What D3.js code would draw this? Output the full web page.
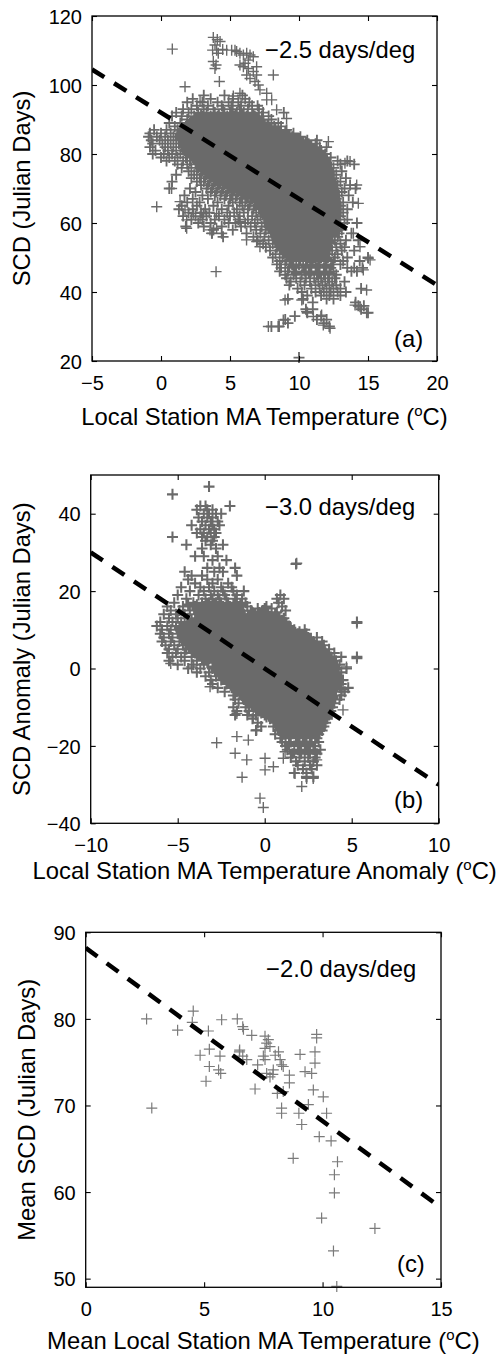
<!DOCTYPE html>
<html lang="en">
<head>
<meta charset="UTF-8">
<title>SCD vs Local Station MA Temperature</title>
<script src="https://d3js.org/d3.v7.min.js"></script>
<style>
  body { margin: 0; background: #fff; }
  svg text { font-family: "Liberation Sans", Arial, Helvetica, sans-serif; fill: #000; }
  .tick text { font-size: 20px; }
  .lab { font-size: 23.8px; }
  .pt { fill: none; }
</style>
</head>
<body>
<svg id="chart" width="501" height="1358"></svg>
<script>
// ---------- panel (a): SCD vs local station MA temperature ----------
const aXTicks = [-5, 0, 5, 10, 15, 20];
const aYTicks = [20, 40, 60, 80, 100, 120];
const aFit = { slope: -2.5, intercept: 92 };
// dense cloud, read row by row: [SCD, [temperatures]]
const aRows = [
  [97, [3.1, 4.6, 5.9]],
  [96, [2.3, 3.6, 5.2, 6.1]],
  [95, [1.9, 3.0, 4.1, 4.9, 5.6, 6.4]],
  [94, [2.6, 3.4, 4.4, 5.1, 5.8, 6.6, 7.0]],
  [93, [1.6, 2.2, 3.1, 3.8, 4.5, 5.2, 5.7, 6.3, 7.1]],
  [92, [1.1, 2.0, 2.7, 3.3, 3.9, 4.6, 5.0, 5.5, 6.0, 6.6, 7.4, 8.9]],
  [91, [0.8, 1.5, 2.4, 3.0, 3.6, 4.1, 4.8, 5.3, 5.8, 6.2, 6.8, 7.3, 7.8]],
  [90, [1.9, 2.5, 2.9, 3.4, 3.9, 4.3, 4.7, 5.1, 5.6, 6.0, 6.5, 6.9, 7.4, 8.0]],
  [89, [0.6, 1.4, 2.1, 2.6, 3.1, 3.5, 3.9, 4.4, 4.8, 5.2, 5.7, 6.1, 6.4, 6.9, 7.3, 7.8, 8.5]],
  [88, [1.0, 1.8, 2.3, 2.8, 3.2, 3.6, 4.0, 4.5, 4.9, 5.3, 5.6, 6.0, 6.4, 6.8, 7.2, 7.7, 8.2, 8.7]],
  [87, [-0.5, 0.4, 1.2, 1.9, 2.4, 2.8, 3.1, 3.5, 3.9, 4.2, 4.6, 5.0, 5.4, 5.8, 6.2, 6.5, 6.9, 7.3, 7.8, 8.3, 9.1]],
  [86, [-0.8, 0.0, 0.7, 1.3, 1.8, 2.2, 2.6, 3.0, 3.4, 3.8, 4.1, 4.5, 4.9, 5.3, 5.7, 6.0, 6.4, 6.8, 7.2, 7.6, 8.0, 8.5, 9.0, 9.6]],
  [85, [-0.9, -0.3, 0.3, 0.9, 1.5, 2.0, 2.4, 2.8, 3.2, 3.6, 4.0, 4.3, 4.7, 5.1, 5.5, 5.9, 6.3, 6.6, 7.0, 7.4, 7.8, 8.2, 8.6, 9.1, 9.5, 10.1]],
  [84, [-0.7, -0.1, 0.5, 1.1, 1.6, 2.1, 2.5, 2.9, 3.3, 3.7, 4.1, 4.4, 4.8, 5.2, 5.6, 5.9, 6.3, 6.7, 7.1, 7.5, 7.9, 8.3, 8.7, 9.2, 9.6, 10.0, 10.6, 11.3]],
  [83, [-0.6, 0.1, 0.7, 1.3, 1.8, 2.3, 2.7, 3.1, 3.5, 3.9, 4.2, 4.6, 5.0, 5.4, 5.7, 6.1, 6.5, 6.9, 7.3, 7.7, 8.1, 8.5, 8.9, 9.3, 9.7, 10.2, 10.7, 11.2]],
  [82, [-0.8, 0.3, 0.9, 1.5, 2.0, 2.4, 2.8, 3.2, 3.6, 4.0, 4.4, 4.8, 5.2, 5.5, 5.9, 6.3, 6.7, 7.1, 7.5, 7.9, 8.3, 8.7, 9.1, 9.5, 9.9, 10.4, 10.9, 11.5, 12.0]],
  [81, [-0.4, 0.5, 1.1, 1.7, 2.2, 2.6, 3.0, 3.4, 3.8, 4.2, 4.6, 5.0, 5.3, 5.7, 6.1, 6.5, 6.9, 7.3, 7.7, 8.1, 8.5, 8.9, 9.3, 9.7, 10.1, 10.5, 11.0, 11.6]],
  [80, [-0.6, 0.2, 0.8, 1.4, 1.9, 2.4, 2.8, 3.2, 3.6, 4.0, 4.4, 4.8, 5.2, 5.6, 6.0, 6.4, 6.8, 7.2, 7.6, 8.0, 8.4, 8.8, 9.2, 9.6, 10.0, 10.4, 10.8, 11.3, 11.9]],
  [79, [0.0, 0.6, 1.2, 1.8, 2.3, 2.7, 3.1, 3.5, 3.9, 4.3, 4.7, 5.1, 5.5, 5.9, 6.3, 6.7, 7.1, 7.5, 7.9, 8.3, 8.7, 9.1, 9.5, 9.9, 10.3, 10.7, 11.1, 11.6, 12.3]],
  [78, [0.4, 1.0, 1.6, 2.1, 2.6, 3.0, 3.4, 3.8, 4.2, 4.6, 5.0, 5.4, 5.8, 6.2, 6.6, 7.0, 7.4, 7.8, 8.2, 8.6, 9.0, 9.4, 9.8, 10.2, 10.6, 11.0, 11.4, 11.9, 12.8, 13.5]],
  [77, [1.2, 1.9, 2.5, 2.9, 3.3, 3.7, 4.1, 4.5, 4.9, 5.3, 5.7, 6.1, 6.5, 6.9, 7.3, 7.7, 8.1, 8.5, 8.9, 9.3, 9.7, 10.1, 10.5, 10.9, 11.3, 11.7, 12.2, 13.0, 14.0]],
  [76, [1.5, 2.2, 2.7, 3.1, 3.5, 3.9, 4.3, 4.7, 5.1, 5.5, 5.9, 6.3, 6.7, 7.1, 7.5, 7.9, 8.3, 8.7, 9.1, 9.5, 9.9, 10.3, 10.7, 11.1, 11.5, 11.9, 12.5]],
  [75, [2.0, 2.6, 3.0, 3.4, 3.8, 4.2, 4.6, 5.0, 5.4, 5.8, 6.2, 6.6, 7.0, 7.4, 7.8, 8.2, 8.6, 9.0, 9.4, 9.8, 10.2, 10.6, 11.0, 11.4, 11.8, 12.3, 13.1]],
  [74, [1.1, 2.4, 2.9, 3.3, 3.7, 4.1, 4.5, 4.9, 5.3, 5.7, 6.1, 6.5, 6.9, 7.3, 7.7, 8.1, 8.5, 8.9, 9.3, 9.7, 10.1, 10.5, 10.9, 11.3, 11.7, 12.1, 12.7]],
  [73, [2.2, 2.8, 3.2, 3.6, 4.0, 4.4, 4.8, 5.2, 5.6, 6.0, 6.4, 6.8, 7.2, 7.6, 8.0, 8.4, 8.8, 9.2, 9.6, 10.0, 10.4, 10.8, 11.2, 11.6, 12.0, 12.5, 13.4]],
  [72, [0.8, 2.6, 3.1, 3.5, 3.9, 4.3, 4.7, 5.1, 5.5, 5.9, 6.3, 6.7, 7.1, 7.5, 7.9, 8.3, 8.7, 9.1, 9.5, 9.9, 10.3, 10.7, 11.1, 11.5, 11.9, 12.4, 13.0]],
  [71, [2.9, 3.4, 3.8, 4.2, 4.6, 5.0, 5.4, 5.8, 6.2, 6.6, 7.0, 7.4, 7.8, 8.2, 8.6, 9.0, 9.4, 9.8, 10.2, 10.6, 11.0, 11.4, 11.8, 12.2, 12.8, 13.7]],
  [70, [0.6, 2.1, 3.3, 3.7, 4.1, 4.5, 4.9, 5.3, 5.7, 6.1, 6.5, 6.9, 7.3, 7.7, 8.1, 8.5, 8.9, 9.3, 9.7, 10.1, 10.5, 10.9, 11.3, 11.7, 12.1, 12.6, 13.3, 14.1]],
  [69, [2.5, 3.6, 4.0, 4.4, 4.8, 5.2, 5.6, 6.0, 6.4, 6.8, 7.2, 7.6, 8.0, 8.4, 8.8, 9.2, 9.6, 10.0, 10.4, 10.8, 11.2, 11.6, 12.0, 12.5, 13.1]],
  [68, [1.7, 3.0, 3.9, 4.3, 4.7, 5.1, 5.5, 5.9, 6.3, 6.7, 7.1, 7.5, 7.9, 8.3, 8.7, 9.1, 9.5, 9.9, 10.3, 10.7, 11.1, 11.5, 11.9, 12.3, 12.9, 13.6]],
  [67, [2.3, 3.4, 4.6, 5.0, 5.4, 5.8, 6.2, 6.6, 7.0, 7.4, 7.8, 8.2, 8.6, 9.0, 9.4, 9.8, 10.2, 10.6, 11.0, 11.4, 11.8, 12.2, 12.7]],
  [66, [1.9, 2.8, 4.1, 5.2, 5.7, 6.1, 6.5, 6.9, 7.3, 7.7, 8.1, 8.5, 8.9, 9.3, 9.7, 10.1, 10.5, 10.9, 11.3, 11.7, 12.1, 12.6, 13.2, 13.9]],
  [65, [1.5, 2.6, 3.8, 4.9, 5.9, 6.4, 6.8, 7.2, 7.6, 8.0, 8.4, 8.8, 9.2, 9.6, 10.0, 10.4, 10.8, 11.2, 11.6, 12.0, 12.4, 13.0]],
  [64, [1.3, 2.3, 3.2, 4.4, 5.5, 6.3, 6.7, 7.1, 7.5, 7.9, 8.3, 8.7, 9.1, 9.5, 9.9, 10.3, 10.7, 11.1, 11.5, 11.9, 12.3, 12.8, 13.5]],
  [63, [2.0, 2.9, 3.5, 4.8, 5.3, 6.0, 6.9, 7.3, 7.7, 8.1, 8.5, 8.9, 9.3, 9.7, 10.1, 10.5, 10.9, 11.3, 11.7, 12.1, 12.6, 13.2]],
  [62, [1.6, 2.5, 3.3, 4.2, 5.0, 5.7, 6.6, 7.2, 7.6, 8.0, 8.4, 8.8, 9.2, 9.6, 10.0, 10.4, 10.8, 11.2, 11.6, 12.0, 12.5, 13.0]],
  [61, [2.2, 3.0, 3.9, 4.6, 5.6, 6.3, 7.0, 7.8, 8.2, 8.6, 9.0, 9.4, 9.8, 10.2, 10.6, 11.0, 11.4, 11.8, 12.3, 12.9, 13.5]],
  [60, [2.7, 3.6, 4.9, 5.4, 6.1, 6.8, 7.5, 8.1, 8.5, 8.9, 9.3, 9.7, 10.1, 10.5, 10.9, 11.3, 11.7, 12.1, 12.6, 13.3, 14.2]],
  [59, [1.8, 3.1, 4.4, 5.8, 6.5, 7.3, 7.9, 8.4, 8.8, 9.2, 9.6, 10.0, 10.4, 10.8, 11.2, 11.6, 12.0, 12.5, 13.0]],
  [58, [3.8, 5.2, 6.9, 7.6, 8.3, 8.7, 9.1, 9.5, 9.9, 10.3, 10.7, 11.1, 11.5, 11.9, 12.4, 13.1]],
  [57, [3.7, 4.4, 6.2, 7.2, 8.0, 8.6, 9.0, 9.4, 9.8, 10.2, 10.6, 11.0, 11.4, 11.8, 12.3, 12.9, 13.8]],
  [56, [4.5, 6.7, 7.5, 8.2, 8.8, 9.3, 9.7, 10.1, 10.5, 10.9, 11.3, 11.7, 12.2, 12.8]],
  [55, [7.0, 7.8, 8.5, 9.0, 9.5, 9.9, 10.3, 10.7, 11.1, 11.5, 12.0, 12.6, 13.4, 14.3]],
  [54, [7.4, 8.1, 8.7, 9.2, 9.7, 10.1, 10.5, 10.9, 11.3, 11.8, 12.3, 13.0]],
  [53, [7.6, 8.4, 9.0, 9.5, 10.0, 10.4, 10.8, 11.2, 11.6, 12.1, 12.7, 13.3]],
  [52, [7.9, 8.6, 9.2, 9.7, 10.2, 10.6, 11.0, 11.4, 11.9, 12.4, 13.1, 14.0]],
  [51, [8.3, 8.9, 9.4, 9.9, 10.4, 10.8, 11.2, 11.7, 12.2, 12.8]],
  [50, [8.1, 8.8, 9.3, 9.8, 10.3, 10.7, 11.1, 11.6, 12.1, 12.6, 13.5, 15.0]],
  [49, [8.6, 9.1, 9.6, 10.1, 10.6, 11.0, 11.5, 12.0, 12.5, 13.2, 14.4]],
  [48, [8.4, 9.0, 9.5, 10.0, 10.5, 10.9, 11.4, 11.9, 12.4, 13.0]],
  [47, [8.7, 9.3, 9.8, 10.3, 10.8, 11.3, 11.8, 12.3, 13.5, 14.0, 14.6]],
  [46, [8.6, 9.2, 9.7, 10.4, 10.9, 11.4, 11.9, 12.5, 13.8, 14.2]],
  [45, [9.0, 9.6, 10.2, 10.8, 11.3, 11.8, 12.2, 12.7]],
  [44, [9.1, 9.8, 10.5, 11.1, 11.6, 12.1, 12.6]],
  [43, [9.4, 10.1, 10.8, 11.4, 11.9, 12.4, 13.3]],
  [42, [9.3, 10.4, 11.2, 11.7, 12.2, 12.7]],
  [41, [9.9, 10.9, 11.5, 12.0, 12.5, 13.0, 14.5]],
  [40, [10.2, 11.2, 11.8, 12.3, 12.8, 13.4]],
  [39, [10.6, 11.6, 12.2, 13.0]],
  [38, [9.2, 10.3, 12.0, 12.5]],
  [37, [11.0, 14.1]],
  [36, [14.3, 14.7]],
  [35, [10.5, 11.0, 14.5]],
  [34, [10.6, 15.0]],
  [33, [9.7, 11.6]],
  [32, [9.0, 11.3, 12.0]],
  [31, [9.2, 11.8]],
  [30, [8.0, 8.5, 12.2]],
  [21, [10.0]]
];
// the solid core of panel (a) between the rows above
const aHalfRows = [
  [91.5, [2.9, 3.3, 3.8, 4.2, 4.6, 5.1, 5.4, 5.9, 6.3, 6.7]],
  [90.5, [2.5, 3.0, 3.4, 3.8, 4.2, 4.6, 5.0, 5.4, 5.8, 6.3, 6.7, 7.1]],
  [89.5, [2.2, 2.6, 3.0, 3.5, 3.9, 4.3, 4.7, 5.1, 5.5, 5.9, 6.3, 6.8, 7.2]],
  [88.5, [1.9, 2.3, 2.7, 3.1, 3.5, 4.0, 4.4, 4.8, 5.2, 5.6, 6.0, 6.4, 6.9, 7.3, 7.7]],
  [87.5, [1.7, 2.1, 2.5, 2.9, 3.3, 3.7, 4.1, 4.6, 5.0, 5.4, 5.8, 6.2, 6.6, 7.0, 7.5, 7.9, 8.3]],
  [86.5, [1.5, 1.9, 2.4, 2.8, 3.2, 3.6, 4.0, 4.4, 4.8, 5.2, 5.6, 6.0, 6.5, 6.9, 7.3, 7.7, 8.1, 8.6, 9.0]],
  [85.5, [1.4, 1.8, 2.2, 2.6, 3.0, 3.4, 3.8, 4.2, 4.6, 5.0, 5.4, 5.8, 6.2, 6.6, 7.0, 7.4, 7.8, 8.3, 8.7, 9.1, 9.6]],
  [84.5, [1.4, 1.8, 2.3, 2.7, 3.1, 3.5, 3.9, 4.3, 4.7, 5.1, 5.5, 5.9, 6.3, 6.7, 7.1, 7.5, 7.9, 8.3, 8.8, 9.2, 9.6, 10.0]],
  [83.5, [1.6, 2.0, 2.4, 2.8, 3.2, 3.6, 4.0, 4.4, 4.8, 5.2, 5.6, 6.0, 6.4, 6.8, 7.2, 7.6, 8.0, 8.4, 8.8, 9.2, 9.6, 10.1, 10.5]],
  [82.5, [1.7, 2.1, 2.5, 2.9, 3.3, 3.7, 4.1, 4.5, 4.9, 5.3, 5.7, 6.1, 6.5, 6.9, 7.3, 7.7, 8.1, 8.5, 8.9, 9.3, 9.7, 10.1, 10.5, 10.9]],
  [81.5, [1.8, 2.2, 2.6, 3.0, 3.4, 3.8, 4.2, 4.6, 5.0, 5.4, 5.8, 6.2, 6.6, 7.0, 7.4, 7.8, 8.2, 8.6, 9.0, 9.4, 9.8, 10.2, 10.6, 11.0, 11.3]],
  [80.5, [1.9, 2.3, 2.7, 3.1, 3.5, 3.9, 4.3, 4.7, 5.1, 5.5, 5.9, 6.3, 6.7, 7.1, 7.5, 7.9, 8.3, 8.7, 9.1, 9.5, 9.9, 10.3, 10.7, 11.1, 11.5]],
  [79.5, [2.2, 2.6, 3.0, 3.4, 3.8, 4.2, 4.6, 5.0, 5.4, 5.8, 6.2, 6.6, 7.0, 7.4, 7.8, 8.2, 8.6, 9.0, 9.4, 9.8, 10.2, 10.6, 11.0, 11.4, 11.7]],
  [78.5, [2.5, 2.9, 3.3, 3.7, 4.1, 4.5, 4.9, 5.3, 5.7, 6.1, 6.5, 6.9, 7.3, 7.7, 8.1, 8.5, 8.9, 9.3, 9.7, 10.1, 10.5, 10.9, 11.3, 11.6, 11.9]],
  [77.5, [2.7, 3.1, 3.5, 3.9, 4.3, 4.7, 5.1, 5.5, 5.9, 6.3, 6.7, 7.1, 7.5, 7.9, 8.3, 8.7, 9.1, 9.5, 9.9, 10.3, 10.7, 11.1, 11.5, 11.8, 12.0]],
  [76.5, [2.9, 3.3, 3.7, 4.1, 4.5, 4.9, 5.3, 5.7, 6.1, 6.5, 6.9, 7.3, 7.7, 8.1, 8.5, 8.9, 9.3, 9.7, 10.1, 10.5, 10.9, 11.3, 11.7, 12.0]],
  [75.5, [3.1, 3.5, 3.9, 4.3, 4.7, 5.1, 5.5, 5.9, 6.3, 6.7, 7.1, 7.5, 7.9, 8.3, 8.7, 9.1, 9.5, 9.9, 10.3, 10.7, 11.1, 11.5, 11.8, 12.1]],
  [74.5, [3.4, 3.8, 4.2, 4.6, 5.0, 5.4, 5.8, 6.2, 6.6, 7.0, 7.4, 7.8, 8.2, 8.6, 9.0, 9.4, 9.8, 10.2, 10.6, 11.0, 11.4, 11.8, 12.2]],
  [73.5, [3.6, 4.0, 4.4, 4.8, 5.2, 5.6, 6.0, 6.4, 6.8, 7.2, 7.6, 8.0, 8.4, 8.8, 9.2, 9.6, 10.0, 10.4, 10.8, 11.2, 11.6, 11.9, 12.2]],
  [72.5, [3.9, 4.3, 4.7, 5.1, 5.5, 5.9, 6.3, 6.7, 7.1, 7.5, 7.9, 8.3, 8.7, 9.1, 9.5, 9.9, 10.3, 10.7, 11.1, 11.5, 11.9, 12.3]],
  [71.5, [4.3, 4.7, 5.1, 5.5, 5.9, 6.3, 6.7, 7.1, 7.5, 7.9, 8.3, 8.7, 9.1, 9.5, 9.9, 10.3, 10.7, 11.1, 11.5, 11.9, 12.4]],
  [70.5, [4.8, 5.2, 5.6, 6.0, 6.4, 6.8, 7.2, 7.6, 8.0, 8.4, 8.8, 9.2, 9.6, 10.0, 10.4, 10.8, 11.2, 11.6, 12.0, 12.4]],
  [69.5, [5.3, 5.7, 6.1, 6.5, 6.9, 7.3, 7.7, 8.1, 8.5, 8.9, 9.3, 9.7, 10.1, 10.5, 10.9, 11.3, 11.7, 12.1, 12.5]],
  [68.5, [5.8, 6.2, 6.6, 7.0, 7.4, 7.8, 8.2, 8.6, 9.0, 9.4, 9.8, 10.2, 10.6, 11.0, 11.4, 11.8, 12.2, 12.5]],
  [67.5, [6.3, 6.7, 7.1, 7.5, 7.9, 8.3, 8.7, 9.1, 9.5, 9.9, 10.3, 10.7, 11.1, 11.5, 11.9, 12.3, 12.6]],
  [66.5, [6.8, 7.2, 7.6, 8.0, 8.4, 8.8, 9.2, 9.6, 10.0, 10.4, 10.8, 11.2, 11.6, 12.0, 12.3, 12.6]],
  [65.5, [7.1, 7.5, 7.9, 8.3, 8.7, 9.1, 9.5, 9.9, 10.3, 10.7, 11.1, 11.5, 11.9, 12.3, 12.7]],
  [64.5, [7.3, 7.7, 8.1, 8.5, 8.9, 9.3, 9.7, 10.1, 10.5, 10.9, 11.3, 11.7, 12.1, 12.4, 12.7]],
  [63.5, [7.5, 7.9, 8.3, 8.7, 9.1, 9.5, 9.9, 10.3, 10.7, 11.1, 11.5, 11.9, 12.3, 12.7]],
  [62.5, [7.6, 8.0, 8.4, 8.8, 9.2, 9.6, 10.0, 10.4, 10.8, 11.2, 11.6, 12.0, 12.4, 12.7]],
  [61.5, [7.7, 8.1, 8.5, 8.9, 9.3, 9.7, 10.1, 10.5, 10.9, 11.3, 11.7, 12.1, 12.5]],
  [60.5, [7.8, 8.2, 8.6, 9.0, 9.4, 9.8, 10.2, 10.6, 11.0, 11.4, 11.8, 12.2, 12.6]],
  [59.5, [7.9, 8.3, 8.7, 9.1, 9.5, 9.9, 10.3, 10.7, 11.1, 11.5, 11.9, 12.3, 12.6]],
  [58.5, [8.0, 8.5, 8.9, 9.3, 9.7, 10.1, 10.5, 10.9, 11.3, 11.7, 12.1, 12.5]],
  [57.5, [8.1, 8.6, 9.0, 9.4, 9.8, 10.2, 10.6, 11.0, 11.4, 11.8, 12.2, 12.5]],
  [56.5, [8.3, 8.8, 9.2, 9.6, 10.0, 10.4, 10.8, 11.2, 11.6, 12.0, 12.4]],
  [55.5, [8.4, 8.9, 9.3, 9.7, 10.1, 10.5, 10.9, 11.3, 11.7, 12.1]],
  [54.5, [8.5, 9.0, 9.4, 9.8, 10.2, 10.7, 11.1, 11.5, 11.9, 12.2]],
  [53.5, [8.6, 9.2, 9.8, 10.3, 10.9, 11.4, 12.0]],
  [52.5, [8.8, 9.4, 10.0, 10.6, 11.1, 11.6, 12.0]],
  [51.5, [9.0, 9.6, 10.2, 10.8, 11.4, 11.9]],
  [50.5, [9.2, 9.9, 10.5, 11.2, 11.8]],
  [49.5, [9.4, 10.1, 10.8, 11.4, 12.0]],
  [47.5, [9.6, 10.5, 11.2, 12.0]],
  [45.5, [9.8, 10.7, 11.5, 12.2]]
];
// late-season arc at the top of panel (a): [temperature, SCD]
const aArc = [
  [0.82, 110.4], [3.79, 113.8], [4.08, 113.2], [4.28, 112.6], [3.91, 111.6], [4.03, 110.1],
  [3.74, 110.1], [4.15, 109.2], [4.47, 110.3], [4.76, 110.1], [5.12, 110.1], [5.36, 110.1],
  [5.48, 109.7], [5.72, 109.2], [5.97, 108.7], [6.21, 109.2], [6.45, 108.7], [6.69, 108.2],
  [6.33, 107.2], [6.09, 106.3], [5.72, 105.8], [5.97, 105.3], [6.33, 104.8], [6.93, 105.3],
  [6.69, 103.9], [6.93, 102.9], [6.21, 102.9], [6.45, 101.9], [6.81, 101.0], [7.05, 100.0],
  [7.17, 98.6], [7.66, 97.6], [7.66, 95.7], [8.14, 102.9], [8.02, 95.7], [9.1, 90.3],
  [8.38, 92.8], [4.23, 101.0], [3.99, 105.8], [3.91, 104.8], [3.79, 106.8], [1.74, 99.5],
  [5.72, 97.6], [5.24, 96.8], [2.83, 95.2]
];
// scattered points around the cloud of panel (a)
const aOut = [
  [-0.31, 64.7], [3.99, 45.9], [7.78, 30.0], [8.57, 30.0], [8.86, 31.9], [8.99, 37.7],
  [10.2, 37.7], [10.55, 34.3], [11.04, 32.9], [11.64, 33.3], [11.76, 30.4], [12.25, 29.5],
  [14.06, 36.2], [14.42, 35.7], [14.9, 34.0], [14.9, 40.6], [14.66, 46.4], [15.15, 49.3],
  [13.7, 77.8], [13.33, 77.3], [12.13, 83.6], [14.18, 71.0], [14.3, 65.7], [13.94, 57.0],
  [14.42, 53.1], [15.02, 49.8], [0.77, 70.0], [1.38, 66.2], [1.74, 63.8], [1.86, 60.9],
  [1.86, 58.5], [3.55, 58.0], [3.67, 57.0], [4.03, 58.5], [5.72, 60.4], [6.2, 55.1],
  [6.93, 54.6], [7.17, 53.1], [2.34, 62.8], [2.83, 61.8], [3.07, 62.8], [4.03, 62.8]
];

// ---------- panel (b): SCD anomaly vs temperature anomaly ----------
const bXTicks = [-10, -5, 0, 5, 10];
const bYTicks = [-40, -20, 0, 20, 40];
const bFit = { slope: -3.0, intercept: 0 };
const bRows = [
  [47, [-3.2]],
  [45, [-5.3]],
  [42, [-3.7, -3.4, -2.0]],
  [41, [-3.9, -3.3, -3.0]],
  [40, [-3.5, -3.2, -2.8, -2.5]],
  [39, [-3.8, -3.3, -3.0]],
  [38, [-3.6, -3.1, -2.7]],
  [37, [-4.2, -3.4, -3.0, -2.6]],
  [36, [-3.7, -3.2, -2.9]],
  [35, [-3.9, -3.5, -3.1, -2.8]],
  [34, [-5.3, -3.6, -3.3, -2.9]],
  [33, [-3.4, -3.0]],
  [32, [-4.5, -3.1, -2.4]],
  [31, [-3.6, -2.8]],
  [29, [-4.0, -3.5, -2.7]],
  [28, [-3.0, -2.2]],
  [27, [1.8]],
  [26, [-3.3, -2.6, -1.7]],
  [25, [-4.6, -2.9, -2.4]],
  [24, [-4.2, -3.6, -1.6]],
  [23, [-4.4, -3.3, -2.7]],
  [22, [-4.0, -3.0, -2.1]],
  [21, [-4.8, -3.7, -3.2, -2.5, -1.9]],
  [20, [-4.3, -3.5, -2.9, -2.4, -1.8, -1.2]],
  [19, [-5.0, -3.8, -3.1, -2.7, -2.3, -1.6, 0.9]],
  [18, [-4.5, -3.4, -3.0, -2.6, -2.2, -1.7, -1.3, 0.7, 1.1]],
  [17, [-5.2, -4.1, -3.6, -3.2, -2.8, -2.5, -2.1, -1.6, -1.1, 0.8]],
  [16, [-5.6, -4.7, -4.0, -3.5, -3.1, -2.7, -2.4, -2.0, -1.5, -1.0, 0.1, 1.0]],
  [15, [-5.4, -4.9, -4.3, -3.8, -3.4, -3.0, -2.6, -2.3, -1.9, -1.4, -0.8, -0.1, 1.2]],
  [14, [-5.8, -5.1, -4.6, -4.0, -3.6, -3.2, -2.8, -2.5, -2.1, -1.7, -1.2, -0.6, 0.0, 0.6]],
  [13, [-5.5, -5.0, -4.4, -3.9, -3.5, -3.1, -2.7, -2.3, -1.9, -1.5, -1.0, -0.5, 0.1, 0.6, 1.1]],
  [12, [-6.0, -5.3, -4.8, -4.2, -3.7, -3.3, -2.9, -2.5, -2.1, -1.7, -1.3, -0.8, -0.3, 0.2, 0.7, 1.2, 5.3]],
  [11, [-6.2, -5.6, -5.1, -4.6, -4.1, -3.6, -3.2, -2.8, -2.4, -2.0, -1.6, -1.2, -0.8, -0.4, 0.0, 0.4, 0.9, 1.4]],
  [10, [-5.9, -5.4, -4.9, -4.4, -4.0, -3.6, -3.2, -2.8, -2.4, -2.0, -1.6, -1.2, -0.8, -0.4, 0.0, 0.4, 0.8, 1.2, 1.7, 2.3]],
  [9, [-6.0, -5.5, -5.0, -4.6, -4.2, -3.8, -3.4, -3.0, -2.6, -2.2, -1.8, -1.4, -1.0, -0.6, -0.2, 0.2, 0.6, 1.0, 1.4, 1.9, 2.4]],
  [8, [-5.8, -5.3, -4.8, -4.4, -4.0, -3.6, -3.2, -2.8, -2.4, -2.0, -1.6, -1.2, -0.8, -0.4, 0.0, 0.4, 0.8, 1.2, 1.6, 2.0, 2.5, 3.0]],
  [7, [-5.9, -5.4, -4.9, -4.5, -4.1, -3.7, -3.3, -2.9, -2.5, -2.1, -1.7, -1.3, -0.9, -0.5, -0.1, 0.3, 0.7, 1.1, 1.5, 1.9, 2.3, 2.8, 3.3]],
  [6, [-5.7, -5.2, -4.7, -4.3, -3.9, -3.5, -3.1, -2.7, -2.3, -1.9, -1.5, -1.1, -0.7, -0.3, 0.1, 0.5, 0.9, 1.3, 1.7, 2.1, 2.5, 2.9, 3.4]],
  [5, [-5.5, -5.0, -4.5, -4.1, -3.6, -3.2, -2.8, -2.4, -2.0, -1.6, -1.2, -0.8, -0.4, 0.0, 0.4, 0.8, 1.2, 1.6, 2.0, 2.4, 2.8, 3.2, 3.7]],
  [4, [-5.6, -5.1, -4.6, -4.0, -3.3, -2.9, -2.5, -2.1, -1.7, -1.3, -0.9, -0.5, -0.1, 0.3, 0.7, 1.1, 1.5, 1.9, 2.3, 2.7, 3.1, 3.5, 4.0]],
  [3, [-5.3, -4.8, -4.2, -3.6, -3.0, -2.6, -2.2, -1.8, -1.4, -1.0, -0.6, -0.2, 0.2, 0.6, 1.0, 1.4, 1.8, 2.2, 2.6, 3.0, 3.4, 3.8, 4.4, 5.3]],
  [2, [-5.5, -4.6, -3.9, -3.3, -2.8, -2.4, -2.0, -1.6, -1.2, -0.8, -0.4, 0.0, 0.4, 0.8, 1.2, 1.6, 2.0, 2.4, 2.8, 3.2, 3.6, 4.1]],
  [1, [-5.0, -4.1, -3.5, -2.6, -2.2, -1.8, -1.4, -1.0, -0.6, -0.2, 0.2, 0.6, 1.0, 1.4, 1.8, 2.2, 2.6, 3.0, 3.4, 3.8, 4.3]],
  [0, [-4.4, -3.7, -3.0, -2.4, -2.0, -1.6, -1.2, -0.8, -0.4, 0.0, 0.4, 0.8, 1.2, 1.6, 2.0, 2.4, 2.8, 3.2, 3.6, 4.0, 4.7]],
  [-1, [-3.9, -3.2, -2.6, -2.1, -1.7, -1.3, -0.9, -0.5, -0.1, 0.3, 0.7, 1.1, 1.5, 1.9, 2.3, 2.7, 3.1, 3.5, 3.9, 4.4]],
  [-2, [-3.4, -2.8, -2.3, -1.9, -1.5, -1.1, -0.7, -0.3, 0.1, 0.5, 0.9, 1.3, 1.7, 2.1, 2.5, 2.9, 3.3, 3.7, 4.2]],
  [-3, [-3.1, -2.5, -2.0, -1.6, -1.2, -0.8, -0.4, 0.0, 0.4, 0.8, 1.2, 1.6, 2.0, 2.4, 2.8, 3.2, 3.6, 4.0, 4.5]],
  [-4, [-3.0, -2.2, -1.7, -1.3, -0.9, -0.5, -0.1, 0.3, 0.7, 1.1, 1.5, 1.9, 2.3, 2.7, 3.1, 3.5, 3.9, 4.4]],
  [-5, [-2.7, -1.9, -1.4, -1.0, -0.6, -0.2, 0.2, 0.6, 1.0, 1.4, 1.8, 2.2, 2.6, 3.0, 3.4, 3.8, 4.3, 4.8]],
  [-6, [-2.3, -1.6, -1.1, -0.7, -0.3, 0.1, 0.5, 0.9, 1.3, 1.7, 2.1, 2.5, 2.9, 3.3, 3.7, 4.1, 4.6]],
  [-7, [-1.8, -1.3, -0.8, -0.4, 0.0, 0.4, 0.8, 1.2, 1.6, 2.0, 2.4, 2.8, 3.2, 3.6, 4.0, 4.4]],
  [-8, [-1.7, -1.2, -0.7, -0.2, 0.2, 0.6, 1.0, 1.4, 1.8, 2.2, 2.6, 3.0, 3.4, 3.8, 4.3]],
  [-9, [-1.5, -1.0, -0.5, 0.0, 0.4, 0.8, 1.2, 1.6, 2.0, 2.4, 2.8, 3.2, 3.6, 4.0]],
  [-10, [-1.8, -1.1, -0.6, -0.1, 0.3, 0.7, 1.1, 1.5, 1.9, 2.3, 2.7, 3.1, 3.5, 3.9]],
  [-11, [-1.6, -0.9, -0.3, 0.2, 0.6, 1.0, 1.4, 1.8, 2.2, 2.6, 3.0, 3.4, 3.8]],
  [-12, [-1.7, -1.0, -0.5, 0.0, 0.5, 0.9, 1.3, 1.7, 2.1, 2.5, 2.9, 3.3, 3.7]],
  [-13, [-0.7, 0.3, 0.8, 1.2, 1.6, 2.0, 2.4, 2.8, 3.2, 3.6]],
  [-14, [-0.4, 0.6, 1.1, 1.5, 1.9, 2.3, 2.7, 3.1, 3.5]],
  [-15, [-0.2, 0.5, 1.0, 1.4, 1.8, 2.2, 2.6, 3.0, 3.4]],
  [-16, [-0.5, 0.8, 1.3, 1.7, 2.1, 2.5, 2.9, 3.3]],
  [-17, [0.6, 1.1, 1.5, 1.9, 2.3, 2.7, 3.1]],
  [-18, [0.9, 1.4, 1.8, 2.2, 2.6, 3.0]],
  [-19, [1.0, 1.5, 1.9, 2.3, 2.7, 3.1]],
  [-20, [1.2, 1.7, 2.1, 2.5, 2.9]],
  [-21, [1.3, 1.9, 2.4, 2.8, 3.2]],
  [-22, [1.6, 2.1, 2.6, 3.0]],
  [-23, [1.5, 2.0, 2.5, 2.9]],
  [-24, [1.8, 2.3, 2.8]],
  [-25, [1.9, 2.6, 3.0]],
  [-26, [2.2, 2.7]],
  [-27, [1.7, 2.4]],
  [-28, [2.4, 2.8]]
];
// the solid core of panel (b) between the rows above
const bHalfRows = [
  [16.5, [-4.4, -3.9, -3.3, -2.9, -2.5, -2.2, -1.8, -1.4]],
  [15.5, [-3.9, -3.5, -3.1, -2.7, -2.3, -1.9, -1.5, -0.4, 0.0, 0.4]],
  [14.5, [-3.8, -3.4, -3.0, -2.6, -2.2, -1.8, -1.4, -0.7, -0.3, 0.2, 0.7]],
  [13.5, [-3.7, -3.3, -2.9, -2.5, -2.1, -1.7, -1.3, -0.9, -0.5, -0.1, 0.3, 0.7]],
  [12.5, [-4.2, -3.8, -3.4, -3.0, -2.6, -2.2, -1.8, -1.4, -1.0, -0.6, -0.2, 0.2, 0.6, 1.0]],
  [11.5, [-4.6, -4.2, -3.8, -3.4, -3.0, -2.6, -2.2, -1.8, -1.4, -1.0, -0.6, -0.2, 0.2, 0.6, 1.1]],
  [10.5, [-4.9, -4.5, -4.1, -3.7, -3.3, -2.9, -2.5, -2.1, -1.7, -1.3, -0.9, -0.5, -0.1, 0.3, 0.7, 1.1, 1.5]],
  [9.5, [-4.8, -4.4, -4.0, -3.6, -3.2, -2.8, -2.4, -2.0, -1.6, -1.2, -0.8, -0.4, 0.0, 0.4, 0.8, 1.2, 1.6, 2.0]],
  [8.5, [-4.7, -4.3, -3.9, -3.5, -3.1, -2.7, -2.3, -1.9, -1.5, -1.1, -0.7, -0.3, 0.1, 0.5, 0.9, 1.3, 1.7, 2.1, 2.4]],
  [7.5, [-4.6, -4.2, -3.8, -3.4, -3.0, -2.6, -2.2, -1.8, -1.4, -1.0, -0.6, -0.2, 0.2, 0.6, 1.0, 1.4, 1.8, 2.2, 2.6]],
  [6.5, [-4.5, -4.1, -3.7, -3.3, -2.9, -2.5, -2.1, -1.7, -1.3, -0.9, -0.5, -0.1, 0.3, 0.7, 1.1, 1.5, 1.9, 2.3, 2.7, 3.0]],
  [5.5, [-4.3, -3.9, -3.5, -3.1, -2.7, -2.3, -1.9, -1.5, -1.1, -0.7, -0.3, 0.1, 0.5, 0.9, 1.3, 1.7, 2.1, 2.5, 2.9, 3.2]],
  [4.5, [-4.1, -3.7, -3.3, -2.9, -2.5, -2.1, -1.7, -1.3, -0.9, -0.5, -0.1, 0.3, 0.7, 1.1, 1.5, 1.9, 2.3, 2.7, 3.1, 3.4]],
  [3.5, [-3.9, -3.5, -3.1, -2.7, -2.3, -1.9, -1.5, -1.1, -0.7, -0.3, 0.1, 0.5, 0.9, 1.3, 1.7, 2.1, 2.5, 2.9, 3.3, 3.6]],
  [2.5, [-3.6, -3.2, -2.8, -2.4, -2.0, -1.6, -1.2, -0.8, -0.4, 0.0, 0.4, 0.8, 1.2, 1.6, 2.0, 2.4, 2.8, 3.2, 3.6, 3.8]],
  [1.5, [-3.3, -2.9, -2.5, -2.1, -1.7, -1.3, -0.9, -0.5, -0.1, 0.3, 0.7, 1.1, 1.5, 1.9, 2.3, 2.7, 3.1, 3.5, 3.9]],
  [0.5, [-3.0, -2.6, -2.2, -1.8, -1.4, -1.0, -0.6, -0.2, 0.2, 0.6, 1.0, 1.4, 1.8, 2.2, 2.6, 3.0, 3.4, 3.8, 4.0]],
  [-0.5, [-2.8, -2.4, -2.0, -1.6, -1.2, -0.8, -0.4, 0.0, 0.4, 0.8, 1.2, 1.6, 2.0, 2.4, 2.8, 3.2, 3.6, 4.0]],
  [-1.5, [-2.6, -2.2, -1.8, -1.4, -1.0, -0.6, -0.2, 0.2, 0.6, 1.0, 1.4, 1.8, 2.2, 2.6, 3.0, 3.4, 3.8, 4.1]],
  [-2.5, [-2.4, -2.0, -1.6, -1.2, -0.8, -0.4, 0.0, 0.4, 0.8, 1.2, 1.6, 2.0, 2.4, 2.8, 3.2, 3.6, 4.0, 4.2]],
  [-3.5, [-2.1, -1.7, -1.3, -0.9, -0.5, -0.1, 0.3, 0.7, 1.1, 1.5, 1.9, 2.3, 2.7, 3.1, 3.5, 3.9, 4.2]],
  [-4.5, [-1.9, -1.5, -1.1, -0.7, -0.3, 0.1, 0.5, 0.9, 1.3, 1.7, 2.1, 2.5, 2.9, 3.3, 3.7, 4.1]],
  [-5.5, [-1.7, -1.3, -0.9, -0.5, -0.1, 0.3, 0.7, 1.1, 1.5, 1.9, 2.3, 2.7, 3.1, 3.5, 3.9]],
  [-6.5, [-1.4, -1.0, -0.6, -0.2, 0.2, 0.6, 1.0, 1.4, 1.8, 2.2, 2.6, 3.0, 3.4, 3.8]],
  [-7.5, [-1.2, -0.8, -0.4, 0.0, 0.4, 0.8, 1.2, 1.6, 2.0, 2.4, 2.8, 3.2, 3.6, 3.9]],
  [-8.5, [-1.0, -0.6, -0.2, 0.2, 0.6, 1.0, 1.4, 1.8, 2.2, 2.6, 3.0, 3.4, 3.8]],
  [-9.5, [-0.7, -0.3, 0.1, 0.5, 0.9, 1.3, 1.7, 2.1, 2.5, 2.9, 3.3, 3.7]],
  [-10.5, [-0.5, -0.1, 0.3, 0.7, 1.1, 1.5, 1.9, 2.3, 2.7, 3.1, 3.5]],
  [-11.5, [-0.2, 0.2, 0.6, 1.0, 1.4, 1.8, 2.2, 2.6, 3.0, 3.4, 3.7]],
  [-12.5, [0.1, 0.5, 0.9, 1.3, 1.7, 2.1, 2.5, 2.9, 3.3, 3.6]],
  [-13.5, [0.5, 0.9, 1.3, 1.7, 2.1, 2.5, 2.9, 3.3]],
  [-14.5, [0.8, 1.2, 1.6, 2.0, 2.4, 2.8, 3.2]],
  [-15.5, [0.9, 1.3, 1.7, 2.1, 2.5, 2.9, 3.2]],
  [-16.5, [1.0, 1.6, 2.1, 2.6, 3.0]],
  [-17.5, [1.2, 1.8, 2.4, 2.9]],
  [-19.5, [1.4, 2.0, 2.6]],
  [-21.5, [1.7, 2.3, 2.9]]
];
const bOut = [
  [-2.76, -19.2], [-1.6, -17.6], [-0.94, -18.5], [-1.7, -21.9], [-1.03, -23.6], [0.02, -23.2],
  [0.02, -26.2], [0.5, -25.4], [-1.3, -28.1], [-0.27, -33.5], [-0.08, -35.9], [1.07, -23.2],
  [1.74, -27.1], [2.13, -30.5], [2.41, -28.4], [2.79, -28.4], [2.99, -23.6], [1.17, -21.5],
  [-1.6, -11.6], [-0.66, -12.5], [-0.46, -15.9], [5.3, 11.7], [5.3, 2.6], [4.7, 0.4],
  [4.5, -5.5], [4.5, -10.7], [1.84, 27.2], [-3.14, -4.7], [-4.2, 0.4], [-5.4, 1.3]
];

// ---------- panel (c): station means ----------
const cXTicks = [0, 5, 10, 15];
const cYTicks = [50, 60, 70, 80, 90];
const cFit = { slope: -2.0, intercept: 88.2 };
const cPts = [
  [2.57, 80.0], [2.79, 69.7], [3.88, 78.7], [4.54, 80.9], [4.50, 79.6], [5.18, 78.6],
  [4.83, 75.8], [5.22, 76.5], [5.22, 74.5], [5.08, 72.8], [5.67, 75.7], [5.61, 74.1],
  [5.70, 73.7], [5.74, 79.9], [6.40, 80.0], [6.49, 76.2], [6.63, 79.1], [6.66, 78.8],
  [6.63, 75.7], [6.80, 75.3], [7.01, 78.1], [7.15, 71.9], [7.26, 74.7], [7.57, 78.0],
  [7.64, 77.2], [7.57, 76.6], [7.50, 75.7], [7.57, 75.3], [7.71, 77.6], [7.78, 76.8],
  [7.64, 73.7], [7.78, 73.3], [7.92, 74.1], [8.00, 75.8], [8.14, 76.2], [8.21, 75.3],
  [8.09, 71.4], [8.34, 71.6], [8.27, 74.7], [8.34, 74.5], [8.60, 73.5], [8.60, 72.6],
  [8.27, 69.7], [8.27, 69.1], [9.05, 75.9], [9.26, 73.9], [9.40, 70.1], [9.54, 73.7],
  [9.00, 69.1], [9.12, 67.8], [9.61, 71.8], [9.68, 74.9], [9.68, 76.2], [9.75, 78.2],
  [9.75, 77.8], [9.86, 66.4], [10.03, 71.0], [10.17, 69.1], [10.36, 65.9], [10.63, 63.5],
  [10.50, 62.0], [10.50, 59.9], [9.96, 57.0], [10.46, 53.2], [10.60, 49.1], [12.21, 55.8],
  [8.76, 63.9], [6.5, 76.4], [7.9, 73.6]
];

const fromRows = rows => rows.flatMap(([y, xs]) => xs.map(x => [x, y]));

const panels = [
  { core: fromRows(aRows).concat(fromRows(aHalfRows)), pts: aArc.concat(aOut),
    xDom: [-5, 20], yDom: [20, 120], xT: aXTicks, yT: aYTicks, fit: aFit,
    box: { l: 92, r: 437, t: 16, b: 361 }, xLab: "Local Station MA Temperature", yLab: "SCD (Julian Days)",
    xLabY: 425, yLabX: 30, note: "\u22122.5 days/deg", noteXY: [265, 58], tag: "(a)", tagXY: [394, 347],
    col: "#6a6a6a", sw: 1.4, swCore: 1.85 },
  { core: fromRows(bRows).concat(fromRows(bHalfRows)), pts: bOut,
    xDom: [-10, 10], yDom: [-40, 50], xT: bXTicks, yT: bYTicks, fit: bFit,
    box: { l: 90.7, r: 438.7, t: 475, b: 823.3 }, xLab: "Local Station MA Temperature Anomaly", yLab: "SCD Anomaly (Julian Days)",
    xLabY: 879, yLabX: 30, note: "\u22123.0 days/deg", noteXY: [265, 515], tag: "(b)", tagXY: [394, 808],
    col: "#6a6a6a", sw: 1.4, swCore: 2.05 },
  { core: [], pts: cPts, xDom: [0, 15], yDom: [49, 90], xT: cXTicks, yT: cYTicks, fit: cFit,
    box: { l: 85.7, r: 441, t: 932.3, b: 1287.3 }, xLab: "Mean Local Station MA Temperature", yLab: "Mean SCD (Julian Days)",
    xLabY: 1349, yLabX: 35, note: "\u22122.0 days/deg", noteXY: [266, 977], tag: "(c)", tagXY: [397, 1272],
    col: "#7a7a7a", sw: 1.2, swCore: 1.2 }
];

const svg = d3.select("#chart");
const minus = d => d3.format("")(d).replace("-", "\u2212");

panels.forEach((p, i) => {
  const x = d3.scaleLinear().domain(p.xDom).range([p.box.l, p.box.r]);
  const y = d3.scaleLinear().domain(p.yDom).range([p.box.b, p.box.t]);
  const g = svg.append("g");

  // plus markers
  const s = 5.5;
  const plus = pts => pts.map(([a, b]) => {
    const px = x(a), py = y(b);
    return `M${px - s},${py}H${px + s}M${px},${py - s}V${py + s}`;
  }).join("");
  g.append("path").attr("class", "pt")
    .attr("stroke", p.col).attr("stroke-width", p.swCore)
    .attr("d", plus(p.core));
  g.append("path").attr("class", "pt")
    .attr("stroke", p.col).attr("stroke-width", p.sw)
    .attr("d", plus(p.pts));

  // fitted trend line, dashed
  g.append("clipPath").attr("id", "clip" + i)
    .append("rect").attr("x", p.box.l).attr("y", p.box.t)
    .attr("width", p.box.r - p.box.l).attr("height", p.box.b - p.box.t);
  g.append("line")
    .attr("clip-path", `url(#clip${i})`)
    .attr("x1", x(p.xDom[0])).attr("y1", y(p.fit.intercept + p.fit.slope * p.xDom[0]))
    .attr("x2", x(p.xDom[1])).attr("y2", y(p.fit.intercept + p.fit.slope * p.xDom[1]))
    .attr("stroke", "#000").attr("stroke-width", 4.5)
    .attr("stroke-dasharray", "14.5 11.5");

  // axes with inward ticks on all four sides
  const tick = 5;
  g.append("g").attr("transform", `translate(0,${p.box.b})`)
    .call(d3.axisBottom(x).tickValues(p.xT).tickSizeInner(-tick).tickSizeOuter(0).tickPadding(15).tickFormat(minus));
  const left = g.append("g").attr("transform", `translate(${p.box.l},0)`)
    .call(d3.axisLeft(y).tickValues(p.yT).tickSizeInner(-tick).tickSizeOuter(0).tickPadding(10).tickFormat(minus));
  g.append("g").attr("transform", `translate(0,${p.box.t})`)
    .call(d3.axisTop(x).tickValues(p.xT).tickSizeInner(-tick).tickSizeOuter(0).tickFormat(""));
  g.append("g").attr("transform", `translate(${p.box.r},0)`)
    .call(d3.axisRight(y).tickValues(p.yT).tickSizeInner(-tick).tickSizeOuter(0).tickFormat(""));
  g.selectAll(".domain").remove();
  g.selectAll(".tick line").attr("stroke", "#000").attr("stroke-width", 1.1);
  g.selectAll(".tick text").attr("fill", "#000").style("font-size", "20px");
  left.selectAll(".tick text").attr("dy", "0.36em");

  g.append("rect")
    .attr("x", p.box.l).attr("y", p.box.t)
    .attr("width", p.box.r - p.box.l).attr("height", p.box.b - p.box.t)
    .attr("fill", "none").attr("stroke", "#000").attr("stroke-width", 1.3);

  // axis titles
  const xl = g.append("text").attr("class", "lab")
    .attr("x", (p.box.l + p.box.r) / 2).attr("y", p.xLabY)
    .attr("text-anchor", "middle");
  xl.append("tspan").text(p.xLab + " (");
  xl.append("tspan").attr("dy", -9).style("font-size", "15px").text("o");
  xl.append("tspan").attr("dy", 9).text("C)");

  g.append("text").attr("class", "lab")
    .attr("transform", `translate(${p.yLabX},${(p.box.t + p.box.b) / 2}) rotate(-90)`)
    .attr("text-anchor", "middle")
    .text(p.yLab);

  g.append("text").attr("class", "lab")
    .attr("x", p.noteXY[0]).attr("y", p.noteXY[1]).text(p.note);
  g.append("text").attr("class", "lab")
    .attr("x", p.tagXY[0]).attr("y", p.tagXY[1]).text(p.tag);
});
</script>
</body>
</html>
